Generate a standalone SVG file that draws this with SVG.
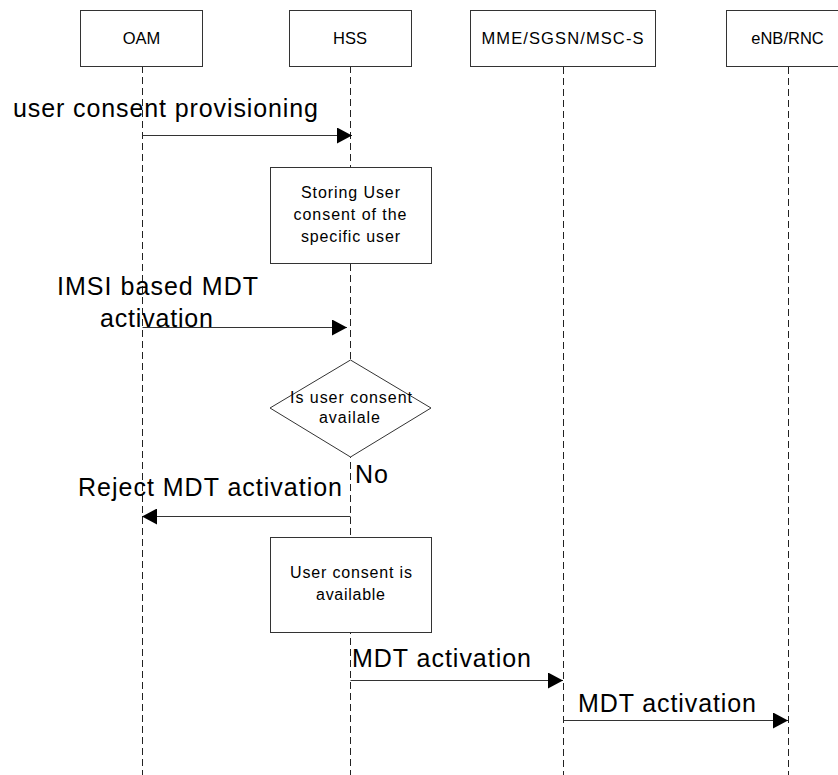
<svg xmlns="http://www.w3.org/2000/svg" width="838" height="775" viewBox="0 0 838 775">
<defs>
<marker id="ah" markerWidth="16" markerHeight="16" refX="15" refY="8" orient="auto" markerUnits="userSpaceOnUse">
<path d="M0,0 L15,8 L0,16 Z" fill="#000"/>
</marker>
<style>
.box{fill:#fff;stroke:#333;stroke-width:1}
.life{stroke:#222;stroke-width:1;stroke-dasharray:7,4;fill:none}
.msg{stroke:#333;stroke-width:1;fill:none;marker-end:url(#ah)}
.s{font-family:"Liberation Sans",Arial,sans-serif;font-size:16px;fill:#000;text-anchor:middle}
.n{font-family:"Liberation Sans",Arial,sans-serif;font-size:16.5px;fill:#000;text-anchor:middle}
.b{font-family:"Liberation Sans",Arial,sans-serif;font-size:25px;fill:#000}
</style>
</defs>
<rect width="838" height="775" fill="#fff"/>
<g id="lifelines">
<line class="life" x1="142.5" y1="66" x2="142.5" y2="775"/>
<line class="life" x1="350.5" y1="66" x2="350.5" y2="775"/>
<line class="life" x1="563.5" y1="67" x2="563.5" y2="775"/>
<line class="life" x1="788.5" y1="67" x2="788.5" y2="775"/>
</g>
<g id="oam"><rect class="box" x="80.5" y="10.5" width="122" height="56"/><text class="n" x="141.5" y="44">OAM</text></g>
<g id="hss"><rect class="box" x="289.5" y="10.5" width="122" height="56"/><text class="n" x="350" y="44">HSS</text></g>
<g id="mme"><rect class="box" x="470.5" y="10.5" width="185" height="56"/><text class="n" x="562.5" y="44" textLength="162">MME/SGSN/MSC-S</text></g>
<g id="enb"><rect class="box" x="726.5" y="10.5" width="123" height="56"/><text class="n" x="787.5" y="44">eNB/RNC</text></g>
<g id="storing"><rect class="box" x="270.5" y="167.5" width="161" height="96"/>
<text class="s" x="350.5" y="198" textLength="99">Storing User</text>
<text class="s" x="350" y="220" textLength="113">consent of the</text>
<text class="s" x="350.5" y="242" textLength="99">specific user</text></g>
<g id="decision"><polygon class="box" points="350.5,360 431,408 350.5,457 270,408"/>
<text class="s" x="351" y="403" textLength="122">Is user consent</text>
<text class="s" x="349.5" y="423" textLength="61">availale</text></g>
<g id="available"><rect class="box" x="270.5" y="537.5" width="161" height="95"/>
<text class="s" x="351" y="578" textLength="122">User consent is</text>
<text class="s" x="350.5" y="600" textLength="69">available</text></g>
<g id="connectors">
<line class="msg" x1="142.5" y1="135.5" x2="352" y2="135.5"/>
<line class="msg" x1="142.5" y1="327.5" x2="347" y2="327.5"/>
<line class="msg" x1="350.5" y1="516.5" x2="142" y2="516.5"/>
<line class="msg" x1="350.5" y1="680.5" x2="563" y2="680.5"/>
<line class="msg" x1="563.5" y1="720.5" x2="788" y2="720.5"/>
</g>
<g id="labels">
<text class="b" x="13" y="117" textLength="305">user consent provisioning</text>
<text class="b" x="57" y="295" textLength="201">IMSI based MDT</text>
<text class="b" x="100" y="327" textLength="113">activation</text>
<text class="b" x="355" y="483" textLength="33">No</text>
<text class="b" x="78" y="496" textLength="264">Reject MDT activation</text>
<text class="b" x="352" y="667" textLength="179">MDT activation</text>
<text class="b" x="578" y="712" textLength="178">MDT activation</text>
</g>
</svg>
